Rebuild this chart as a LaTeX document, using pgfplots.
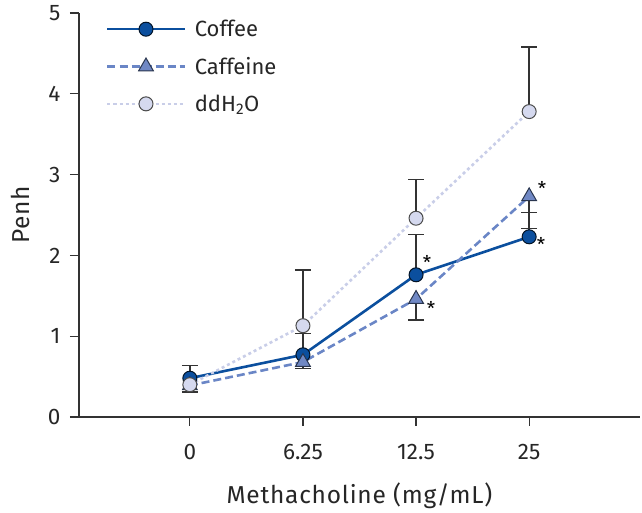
\documentclass[border=0pt]{standalone}
\usepackage{pgfplots}
\pgfplotsset{compat=1.18}
\usepackage{fontspec}
\setmainfont{Fira Sans}
\definecolor{coffee}{HTML}{0B4F9E}
\definecolor{caff}{HTML}{6A86C6}
\definecolor{caffm}{HTML}{7088C4}
\definecolor{water}{HTML}{C9CEE8}
\definecolor{waterm}{HTML}{D5D9EF}
\definecolor{axgray}{HTML}{333333}
\begin{document}
\begin{tikzpicture}
\path[use as bounding box] (-79pt,-96pt) rectangle (563pt,417pt);
\begin{axis}[
  at={(0pt,0pt)}, anchor=south west,
  scale only axis, width=561pt, height=404pt,
  xmin=-0.98, xmax=3.98, ymin=0, ymax=5,
  axis x line*=bottom, axis y line*=left,
  axis line style={axgray, line width=1.3pt},
  tick style={axgray, line width=1.3pt},
  tick align=outside, major tick length=9pt,
  xtick={0,1,2,3}, xticklabels={0,6.25,12.5,25},
  ytick={0,1,2,3,4,5},
  /pgf/number format/assume math mode=true,
  tick label style={font=\fontsize{22.5}{25}\selectfont, text=black!85},
  xticklabel style={yshift=-15pt},
  yticklabel style={xshift=-6pt},
  label style={font=\fontsize{24.5}{27}\selectfont\addfontfeature{LetterSpace=3}, text=black!85},
  xlabel={Methacholine (mg/mL)},
  xlabel style={at={(axis description cs:0.5,0)}, anchor=base, yshift=-86pt},
  ylabel={Penh},
  ylabel style={at={(axis description cs:0,0.5)}, anchor=center, yshift=59pt},
  legend style={draw=none, fill=none, at={(0,1)}, anchor=north west, xshift=24pt, yshift=-3pt,
    font=\fontsize{22}{25}\selectfont, row sep=15pt, nodes={text=black!85}},
  legend cell align=left,
  legend image code/.code={\draw[mark repeat=2,mark phase=2] plot coordinates {(0pt,0pt) (38.5pt,0pt) (77pt,0pt)};\path (84pt,0pt);},
  clip=false,
]
% error bars
\addplot[draw=none, mark=none, forget plot, error bars/.cd, y dir=plus, y explicit,
  error bar style={axgray, line width=1.4pt}, error mark options={rotate=90, mark size=8pt, line width=1.4pt, axgray}]
  coordinates {(0,0.48) +- (0,0.16) (1,0.77) +- (0,0.26) (2,1.76) +- (0,0.50) (3,2.23) +- (0,0.30)};
\addplot[draw=none, mark=none, forget plot, error bars/.cd, y dir=minus, y explicit,
  error bar style={axgray, line width=1.4pt}, error mark options={rotate=90, mark size=8pt, line width=1.4pt, axgray}]
  coordinates {(0,0.39) +- (0,0.08) (1,0.68) +- (0,0.08) (2,1.46) +- (0,0.26) (3,2.73) +- (0,0.40)};
\addplot[draw=none, mark=none, forget plot, error bars/.cd, y dir=plus, y explicit,
  error bar style={axgray, line width=1.4pt}, error mark options={rotate=90, mark size=8pt, line width=1.4pt, axgray}]
  coordinates {(1,1.13) +- (0,0.69) (2,2.46) +- (0,0.48) (3,3.78) +- (0,0.80)};
% series
\addplot[coffee, line width=2.6pt, mark=*, mark size=7pt,
  mark options={solid, fill=coffee, draw=black!75!coffee, line width=1pt}]
  coordinates {(0,0.48) (1,0.77) (2,1.76) (3,2.23)};
\addlegendentry{Coffee}
\addplot[caff, line width=2.6pt, dash pattern=on 8pt off 4pt, mark=triangle*, mark size=8.5pt,
  mark options={solid, fill=caffm, draw=black!60!caff, line width=1pt}]
  coordinates {(0,0.39) (1,0.68) (2,1.46) (3,2.73)};
\addlegendentry{Caffeine}
\addplot[water, line width=2.6pt, dash pattern=on 3pt off 3pt, mark=*, mark size=7pt,
  mark options={solid, fill=waterm, draw=black!70, line width=1pt}]
  coordinates {(0,0.40) (1,1.13) (2,2.46) (3,3.78)};
\addlegendentry{ddH\textsubscript{2}O}
% significance marks
\node[font=\fontsize{19}{20}\selectfont] at (axis cs:2,1.76) [xshift=11pt, yshift=12pt] {*};
\node[font=\fontsize{19}{20}\selectfont] at (axis cs:2,1.46) [xshift=15pt, yshift=-9pt] {*};
\node[font=\fontsize{19}{20}\selectfont] at (axis cs:3,2.73) [xshift=13pt, yshift=8pt] {*};
\node[font=\fontsize{19}{20}\selectfont] at (axis cs:3,2.23) [xshift=12pt, yshift=-8pt] {*};
\end{axis}
\end{tikzpicture}
\end{document}
